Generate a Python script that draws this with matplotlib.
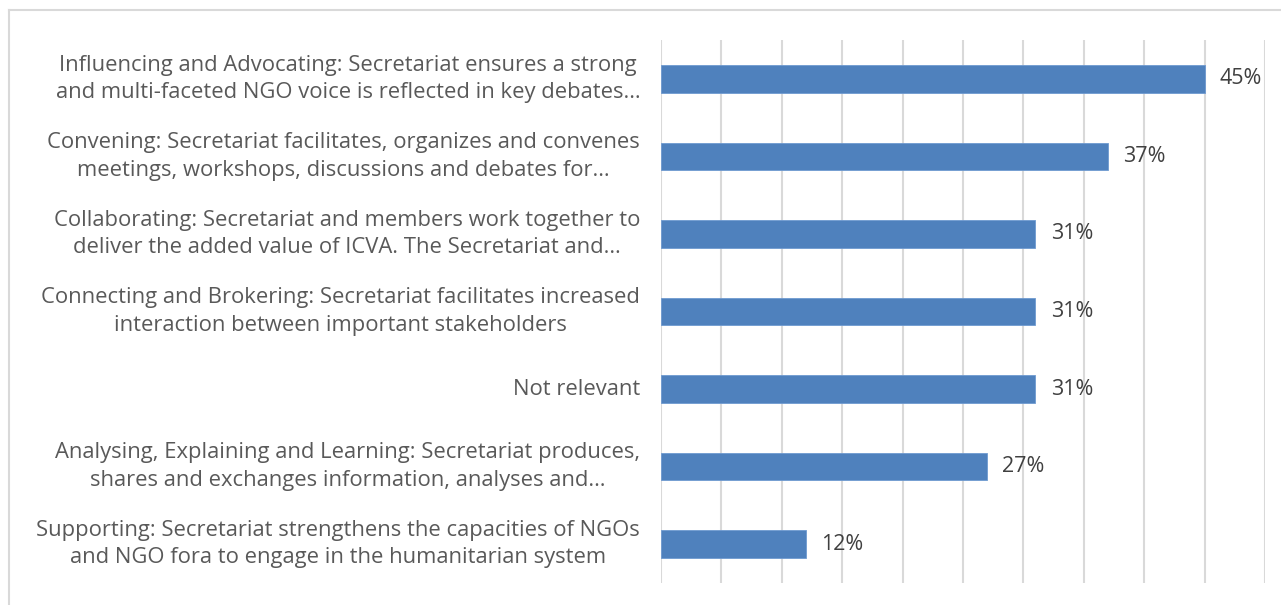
import matplotlib
matplotlib.use("Agg")
import matplotlib.pyplot as plt
from matplotlib.lines import Line2D

categories = [
    "Influencing and Advocating: Secretariat ensures a strong\nand multi-faceted NGO voice is reflected in key debates…",
    "Convening: Secretariat facilitates, organizes and convenes\nmeetings, workshops, discussions and debates for…",
    "Collaborating: Secretariat and members work together to\ndeliver the added value of ICVA. The Secretariat and…",
    "Connecting and Brokering: Secretariat facilitates increased\ninteraction between important stakeholders",
    "Not relevant",
    "Analysing, Explaining and Learning: Secretariat produces,\nshares and exchanges information, analyses and…",
    "Supporting: Secretariat strengthens the capacities of NGOs\nand NGO fora to engage in the humanitarian system",
]
values = [45, 37, 31, 31, 31, 27, 12]

plt.rcParams['font.family'] = ['Open Sans', 'DejaVu Sans']

fig = plt.figure(figsize=(12.81, 6.05), dpi=100)
W, H = 1281, 605
ax = fig.add_axes([661 / W, 1 - 583 / H, (1265 - 661) / W, (583 - 40) / H])

ypos = list(range(len(categories)))
ax.barh(ypos, values, height=0.355, color='#4F81BD', edgecolor='#6E9AD0',
        linewidth=0.6, zorder=3)

ax.set_xlim(0, 50)
ax.set_ylim(len(categories) - 0.5, -0.5)
ax.set_xticks(range(0, 51, 5))
ax.tick_params(axis='x', length=0, labelbottom=False)
ax.tick_params(axis='y', length=0, pad=15)
ax.grid(axis='x', color='#D9D9D9', linewidth=1.5, zorder=0)
for s in ax.spines.values():
    s.set_visible(False)

ax.set_yticks(ypos)
ax.set_yticklabels(categories, fontsize=15.8, color='#595959',
                   multialignment='center', linespacing=1.41)
for lbl in ax.get_yticklabels():
    lbl.set_verticalalignment('center')

for y, v in zip(ypos, values):
    ax.annotate(f"{v}%", (v, y), xytext=(11, 0), textcoords='offset points',
                va='center', ha='left', fontsize=15.5, color='#404040')

# outer frame (top and left edges)
fig.add_artist(Line2D([9 / W, 9 / W], [0, 1 - 10 / H], transform=fig.transFigure,
                      color='#D9D9D9', linewidth=1.5))
fig.add_artist(Line2D([9 / W, 1], [1 - 10 / H, 1 - 10 / H], transform=fig.transFigure,
                      color='#D9D9D9', linewidth=1.5))

fig.savefig("out.png", dpi=100)
